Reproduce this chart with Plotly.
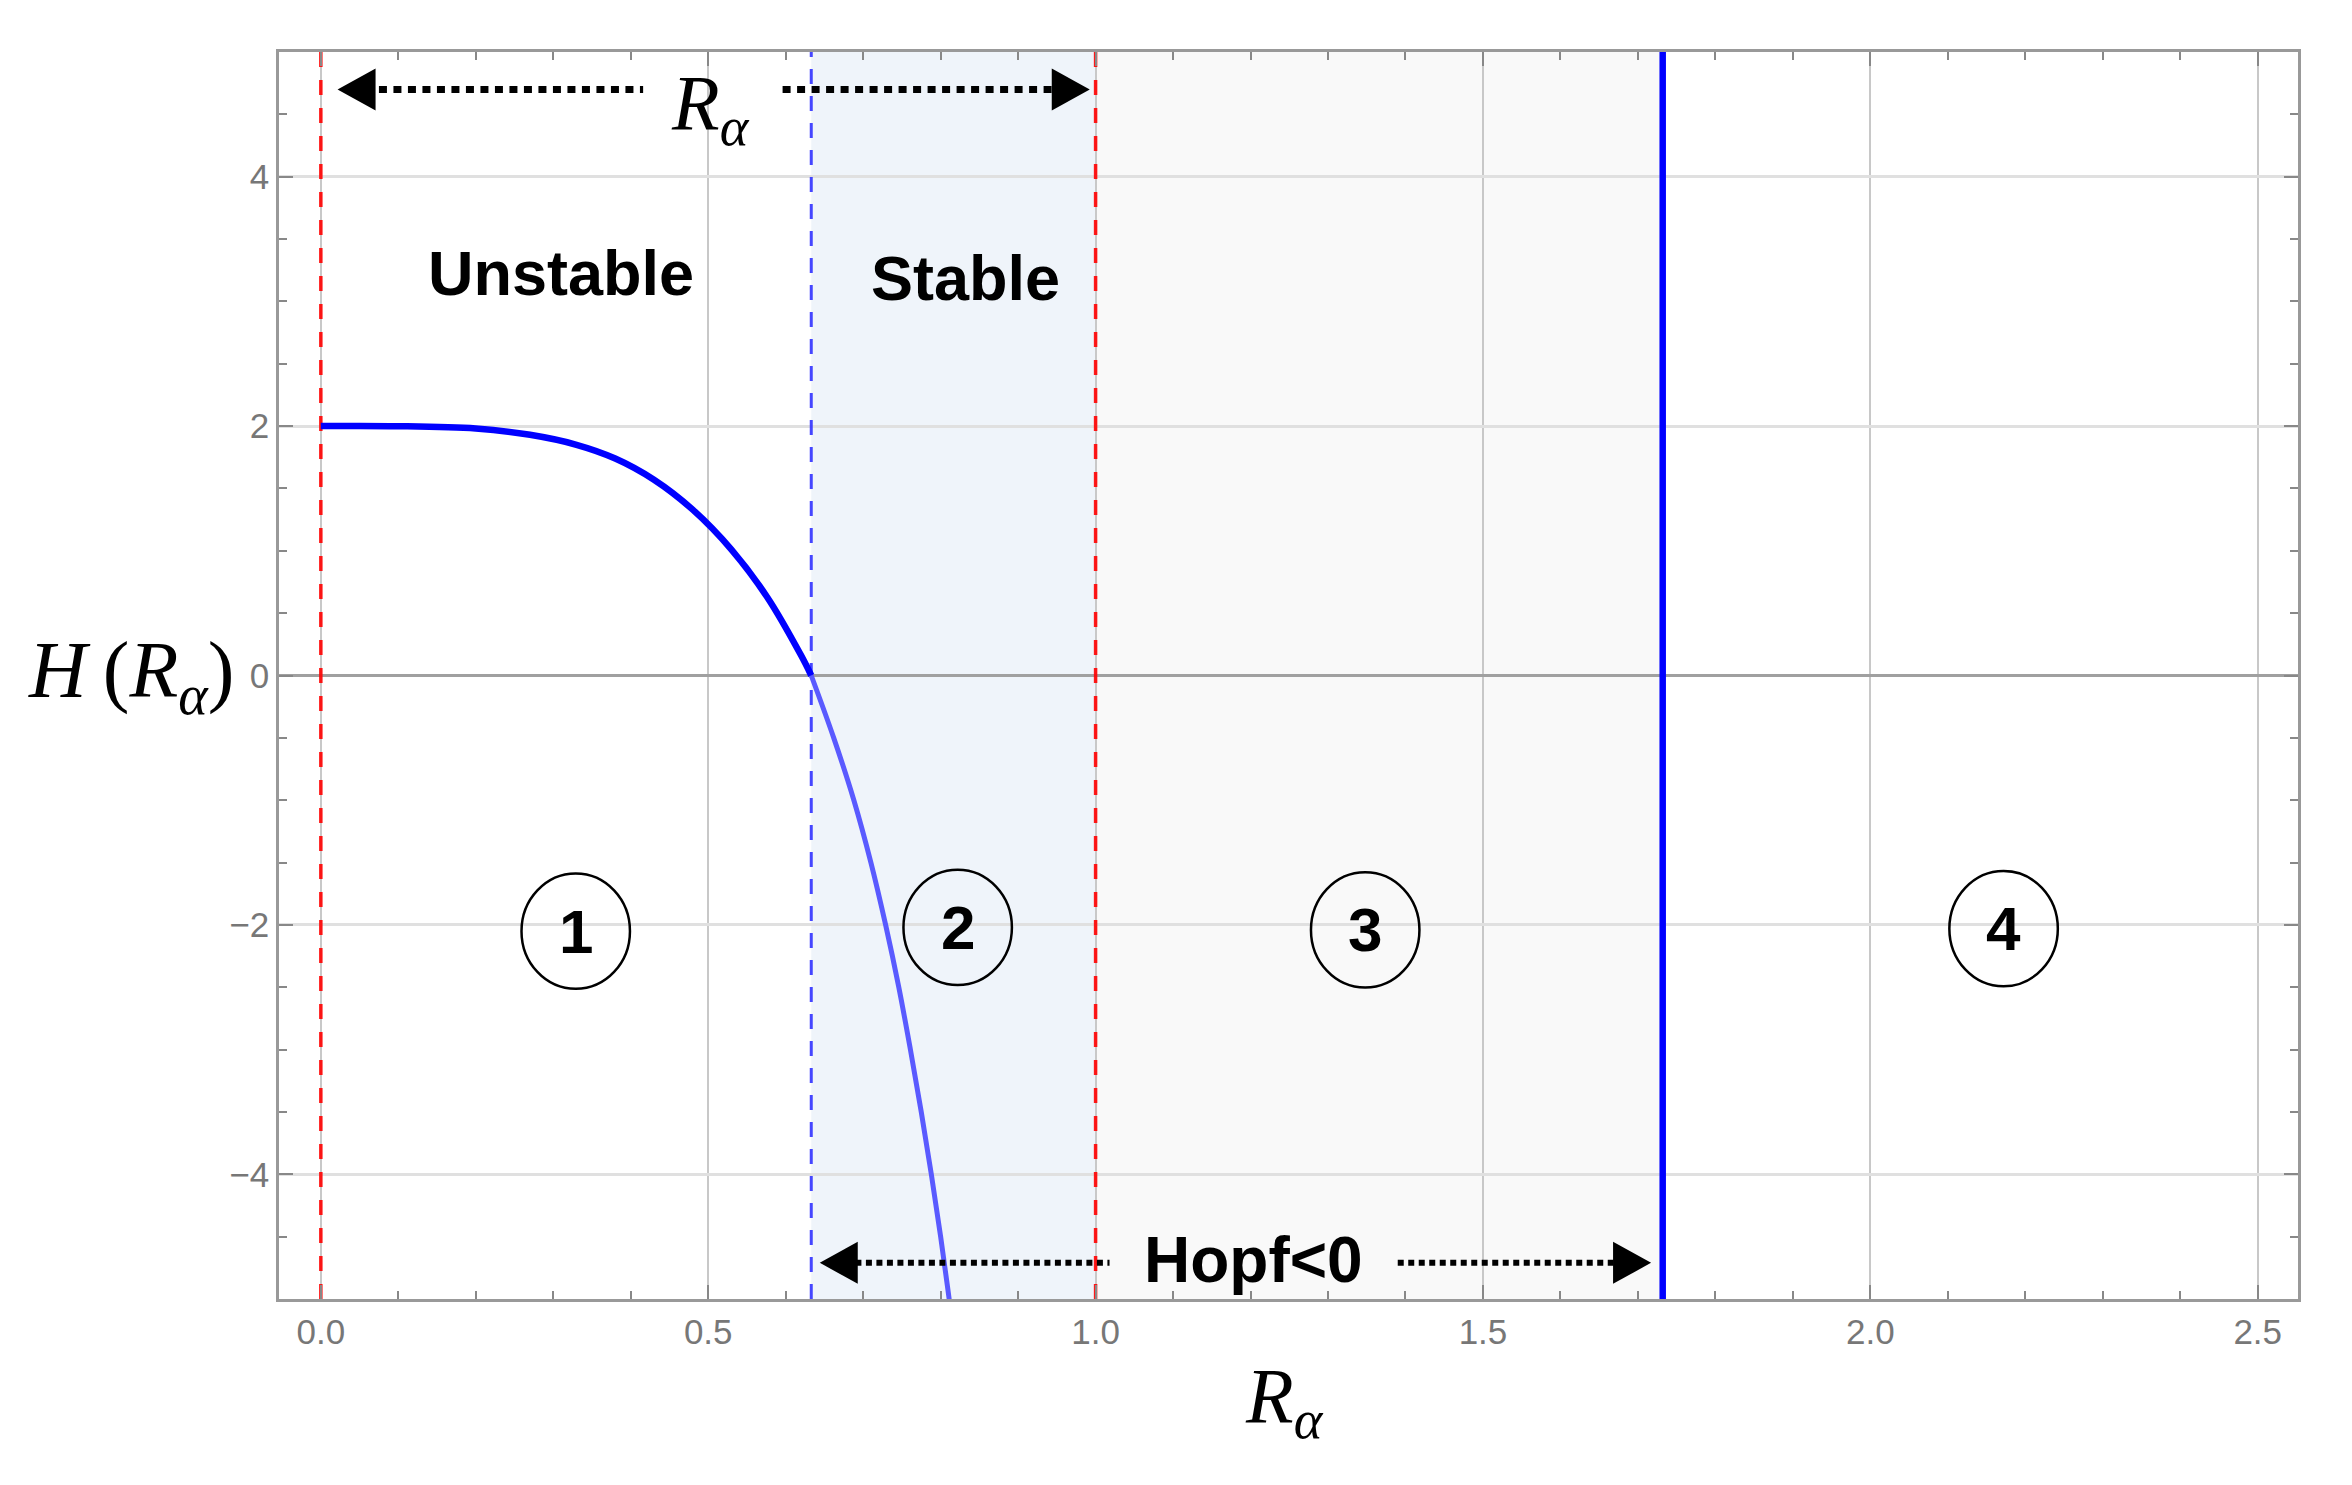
import plotly.graph_objects as go

# H(R_alpha), split at the zero crossing
r_unstable = [0.0, 0.10, 0.20, 0.27, 0.33, 0.38, 0.43, 0.48, 0.53, 0.576, 0.62, 0.633]
h_unstable = [2.0, 1.999, 1.98, 1.93, 1.85, 1.74, 1.57, 1.33, 1.01, 0.63, 0.16, 0.0]

r_stable = [0.633, 0.662, 0.688, 0.710, 0.729, 0.746, 0.761, 0.775, 0.788, 0.800, 0.811, 0.8215]
h_stable = [0.0, -0.5, -1.0, -1.5, -2.0, -2.5, -3.0, -3.5, -4.0, -4.5, -5.0, -5.5]

r_zero = 0.633        # H = 0 (blue dashed)
r_bounds = [0.0, 1.0] # red dashed
r_limit = 1.732       # solid blue line
y_range = [-5, 5]

region_labels = ["1", "2", "3", "4"]
region_x = [0.329, 0.822, 1.348, 2.172]
region_y = [-2.05, -2.02, -2.04, -2.03]

fig = go.Figure()

# shaded regions
fig.add_shape(type="rect", xref="x", yref="paper", x0=r_zero, x1=r_bounds[1], y0=0, y1=1,
              fillcolor="#eff4fa", line_width=0, layer="below")
fig.add_shape(type="rect", xref="x", yref="paper", x0=r_bounds[1], x1=r_limit, y0=0, y1=1,
              fillcolor="#f9f9f9", line_width=0, layer="below")

for xv in r_bounds:
    fig.add_trace(go.Scatter(x=[xv, xv], y=y_range, mode="lines",
                             line=dict(color="rgba(255,0,0,0.9)", width=3.5, dash="15px,13px")))
fig.add_trace(go.Scatter(x=[r_zero, r_zero], y=y_range, mode="lines",
                         line=dict(color="rgba(50,50,255,0.9)", width=3, dash="15px,12px")))

fig.add_trace(go.Scatter(x=r_unstable, y=h_unstable, mode="lines", line_shape="spline",
                         line=dict(color="#0000ff", width=6.5, smoothing=1.0)))
fig.add_trace(go.Scatter(x=r_stable, y=h_stable, mode="lines", line_shape="spline",
                         line=dict(color="#5a5aff", width=5, smoothing=1.0)))
fig.add_trace(go.Scatter(x=[r_limit, r_limit], y=y_range, mode="lines",
                         line=dict(color="#0000ff", width=6.5)))

# dotted arrows
top_y = 4.70
bot_y = -4.71
for seg in ([0.075, 0.416], [0.596, 0.945]):
    fig.add_trace(go.Scatter(x=seg, y=[top_y, top_y], mode="lines",
                             line=dict(color="black", width=7, dash="8px,6.5px")))
for seg in ([0.690, 1.018], [1.390, 1.670]):
    fig.add_trace(go.Scatter(x=seg, y=[bot_y, bot_y], mode="lines",
                             line=dict(color="black", width=6, dash="6px,4.5px")))

def head(xtip, ytip, direction):
    d = 38 * direction
    fig.add_shape(type="path", xref="x", yref="y", xsizemode="pixel", ysizemode="pixel",
                  xanchor=xtip, yanchor=ytip, path=f"M0,0 L{d},21 L{d},-21 Z",
                  fillcolor="black", line_width=0, layer="above")

head(0.0216, top_y, 1)
head(0.9925, top_y, -1)
head(0.644, bot_y, 1)
head(1.717, bot_y, -1)

serif = "Liberation Serif"
sans = "Liberation Sans"
ann = []
ann.append(dict(x=0.503, y=4.55, xref="x", yref="y", showarrow=False,
                text="<i>R</i><sub><i>α</i></sub>", font=dict(family=serif, size=78, color="black")))
ann.append(dict(x=0.31, y=3.23, xref="x", yref="y", showarrow=False,
                text="<b>Unstable</b>", font=dict(family=sans, size=63, color="black")))
ann.append(dict(x=0.832, y=3.19, xref="x", yref="y", showarrow=False,
                text="<b>Stable</b>", font=dict(family=sans, size=63, color="black")))
ann.append(dict(x=1.204, y=-4.69, xref="x", yref="y", showarrow=False,
                text="<b>Hopf<0</b>", font=dict(family=sans, size=64, color="black")))
for lab, xv, yv in zip(region_labels, region_x, region_y):
    fig.add_shape(type="circle", xref="x", yref="y", x0=xv - 0.07, x1=xv + 0.07,
                  y0=yv - 0.462, y1=yv + 0.462, line=dict(color="black", width=2.5), layer="above")
    ann.append(dict(x=xv, y=yv, xref="x", yref="y", showarrow=False,
                    text=f"<b>{lab}</b>", font=dict(family=sans, size=62, color="black")))
ann.append(dict(x=-0.0215, y=0, xref="paper", yref="y", showarrow=False, xanchor="right",
                text="<i>H</i>\u2009(<i>R</i><sub><i>α</i></sub>)", font=dict(family=serif, size=80, color="black")))
ann.append(dict(x=0.498, y=-0.082, xref="paper", yref="paper", showarrow=False, yanchor="middle",
                text="<i>R</i><sub><i>α</i></sub>", font=dict(family=serif, size=78, color="black")))

axis_common = dict(showline=True, linecolor="#999999", linewidth=2.5, mirror="allticks",
                   ticks="inside", ticklen=14, tickwidth=2, tickcolor="#888888",
                   tickfont=dict(family=sans, size=35, color="#777777"))

fig.update_layout(
    width=2352, height=1485,
    margin=dict(l=271, r=62, t=44, b=194),
    plot_bgcolor="white", paper_bgcolor="white",
    showlegend=False, hovermode=False,
    annotations=ann,
    xaxis=dict(range=[-0.054, 2.552], tick0=0, dtick=0.5, tickformat=".1f",
               showgrid=True, gridcolor="#c8c8c8", gridwidth=1.5, zeroline=False,
               minor=dict(dtick=0.1, ticks="inside", ticklen=8, tickwidth=2, tickcolor="#888888", showgrid=False),
               **axis_common),
    yaxis=dict(range=y_range, tick0=0, dtick=2,
               showgrid=True, gridcolor="#e0e0e0", gridwidth=3,
               zeroline=True, zerolinecolor="#a0a0a0", zerolinewidth=2.5,
               minor=dict(dtick=0.5, ticks="inside", ticklen=8, tickwidth=2, tickcolor="#888888", showgrid=False),
               **axis_common),
)

fig.write_html("out.html")
